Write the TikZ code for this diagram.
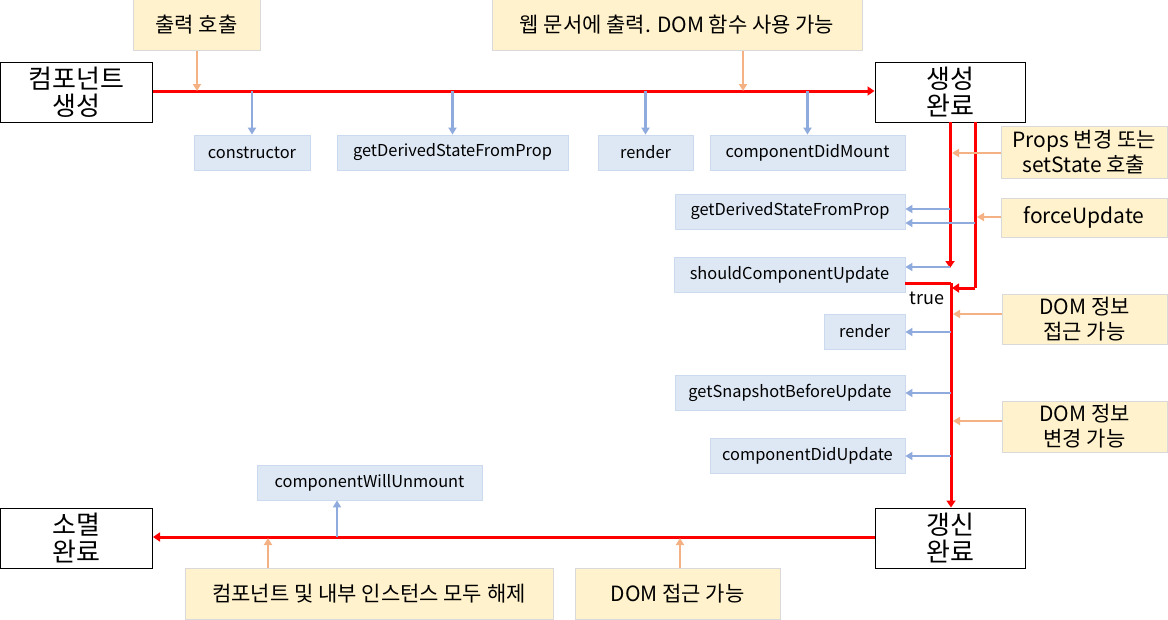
\documentclass[tikz,border=0pt]{standalone}
\usepackage{fontspec}
\setmainfont{Noto Sans CJK KR}
\usetikzlibrary{arrows.meta}
\definecolor{yfill}{HTML}{FFF2CC}
\definecolor{yline}{HTML}{D9D9D9}
\definecolor{bfill}{HTML}{DEE8F5}
\definecolor{bline}{HTML}{CCDAF0}
\definecolor{barrow}{HTML}{8FAADC}
\definecolor{oarrow}{HTML}{F4B183}
\begin{document}
\begin{tikzpicture}[x=1pt,y=-1pt,
  statebox/.style={draw=black, line width=1pt, fill=white, minimum width=#1, minimum height=60pt, inner sep=0pt, align=center, font=\fontsize{26}{27}\selectfont},
  ybox/.style={draw=yline, fill=yfill, line width=1pt, inner sep=0pt, align=center, font=\fontsize{21}{25}\selectfont},
  bbox/.style={draw=bline, fill=bfill, line width=0.8pt, inner sep=0pt, minimum height=35pt, font=\fontsize{16.4}{19}\selectfont},
  flow/.style={red, line width=3pt, -{Triangle[width=9pt,length=7pt]}},
  flowplain/.style={red, line width=3pt},
  barr/.style={barrow, line width=2.8pt, -{Triangle[width=8pt,length=7pt]}},
  oarr/.style={oarrow, line width=2.8pt, -{Triangle[width=8pt,length=7pt]}}]
\useasboundingbox (0,0) rectangle (1168,619);

% state boxes
\node[statebox=152pt] (cc) at (76.5,92) {컴포넌트\\생성};
\node[statebox=150pt] (sd) at (950,92) {생성\\완료};
\node[statebox=152pt] (sm) at (76.5,538) {소멸\\완료};
\node[statebox=150pt] (ud) at (950,538) {갱신\\완료};

% yellow boxes
\node[ybox, minimum width=127pt, minimum height=51pt] (y1) at (196.5,25) {출력 호출};
\node[ybox, minimum width=370pt, minimum height=51pt] (y2) at (677,25) {웹 문서에 출력. DOM 함수 사용 가능};
\node[ybox, minimum width=166pt, minimum height=52pt] (y3) at (1084,152) {Props 변경 또는\\setState 호출};
\node[ybox, minimum width=166pt, minimum height=39pt] (y4) at (1084,217.5) {forceUpdate};
\node[ybox, minimum width=165pt, minimum height=50pt] (y5) at (1084.5,319) {DOM 정보\\접근 가능};
\node[ybox, minimum width=165pt, minimum height=51pt] (y6) at (1084.5,426.5) {DOM 정보\\변경 가능};
\node[ybox, minimum width=368pt, minimum height=51pt] (y7) at (369,594) {컴포넌트 및 내부 인스턴스 모두 해제};
\node[ybox, minimum width=205pt, minimum height=51pt] (y8) at (677.5,594) {DOM 접근 가능};

% blue boxes
\node[bbox, minimum width=116pt] (b1) at (252,152.5) {constructor};
\node[bbox, minimum width=231pt] (b2) at (452.5,152.5) {getDerivedStateFromProp};
\node[bbox, minimum width=95pt] (b3) at (645.5,152.5) {render};
\node[bbox, minimum width=195pt] (b4) at (807.5,152.5) {componentDidMount};
\node[bbox, minimum width=230pt] (b5) at (790,211.5) {getDerivedStateFromProp};
\node[bbox, minimum width=231pt] (b6) at (789.5,274.5) {shouldComponentUpdate};
\node[bbox, minimum width=81pt] (b7) at (864.5,331.5) {render};
\node[bbox, minimum width=230pt] (b8) at (790,392.5) {getSnapshotBeforeUpdate};
\node[bbox, minimum width=195pt] (b9) at (807.5,455.5) {componentDidUpdate};
\node[bbox, minimum width=225pt] (b10) at (369.5,482.5) {componentWillUnmount};

% coordinates on the flow lines
\coordinate (lt) at (950,122);
\coordinate (rt) at (975,122);
\coordinate (lend) at (950,268);
\coordinate (rturn) at (975,288);
\coordinate (tj) at (951,283);

% main flows
\draw[flow] (cc.east |- 0,91) -- (sd.west |- 0,91);
\draw[flow] (lt) -- (lend);
\draw[flowplain] (rt) -- (rturn);
\draw[flow] (rturn) -- (952,288);
\draw[flowplain] (905,283) -- (tj);
\draw[flow] (tj) -- (ud.north -| tj);
\draw[flow] (ud.west |- 0,537) -- (sm.east |- 0,537);
\node[font=\fontsize{18}{20}\selectfont, inner sep=0pt] (tl) at (927,298.5) {true};

% blue arrows, top row
\draw[barr] (b1.north |- 0,91) -- (b1.north);
\draw[barr] (b2.north |- 0,91) -- (b2.north);
\draw[barr] (b3.north |- 0,91) -- (b3.north);
\draw[barr] (b4.north |- 0,91) -- (b4.north);
% blue arrows, update column
\draw[barr] (950,209) -- (b5.east |- 0,209);
\draw[barr] (975,223) -- (b5.east |- 0,223);
\draw[barr] (950,267) -- (b6.east |- 0,267);
\draw[barr] (951,332) -- (b7.east |- 0,332);
\draw[barr] (951,393) -- (b8.east |- 0,393);
\draw[barr] (951,456) -- (b9.east |- 0,456);
% blue arrow, unmount
\draw[barr] (337,537) -- (b10.south -| 337,0);

% orange arrows
\draw[oarr] (y1.south -| 197,0) -- (197,91);
\draw[oarr] (y2.south -| 743,0) -- (743,91);
\draw[oarr] (y3.west |- 0,153) -- (952,153);
\draw[oarr] (y4.west |- 0,217) -- (977,217);
\draw[oarr] (y5.west |- 0,314) -- (953,314);
\draw[oarr] (y6.west |- 0,421) -- (953,421);
\draw[oarr] (y7.north -| 268,0) -- (268,538);
\draw[oarr] (y8.north -| 680,0) -- (680,538);
\end{tikzpicture}
\end{document}
